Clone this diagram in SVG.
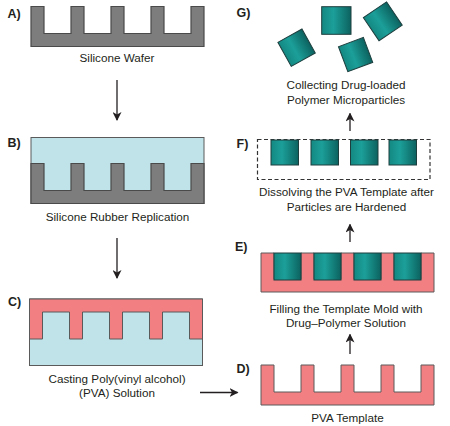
<svg xmlns="http://www.w3.org/2000/svg" xmlns:xlink="http://www.w3.org/1999/xlink" width="450" height="426" viewBox="0 0 450 426">
<style>
.t{font-family:"Liberation Sans",Arial,sans-serif;font-size:11.7px;fill:#231f20;text-anchor:middle}
.lb{font-family:"Liberation Sans",Arial,sans-serif;font-size:12.5px;font-weight:bold;fill:#231f20}
.gray{fill:#7d7d7d;stroke:#4a4a4a;stroke-width:1.2}
.pink{fill:#f27f82;stroke:#5a5a5a;stroke-width:1}
.blue{fill:#bfe3e8;stroke:#5a5a5a;stroke-width:1}
.teal{fill:url(#tg);stroke:#1e3e3e;stroke-width:1}
.ar{stroke:#231f20;stroke-width:1.3;fill:none;marker-end:url(#ah)}
</style>
<defs>
<linearGradient id="tg" x1="0" y1="0" x2="1" y2="0">
<stop offset="0" stop-color="#148882"/>
<stop offset="0.4" stop-color="#1c9f99"/>
<stop offset="1" stop-color="#0c625f"/>
</linearGradient>
<path id="comb" d="M0,0 H13 V27 H40 V0 H53 V27 H80 V0 H93 V27 H120 V0 H133 V27 H160 V0 H173 V40 H0 Z"/>
<marker id="ah" markerWidth="9" markerHeight="9" refX="8" refY="4.5" orient="auto" markerUnits="userSpaceOnUse">
<path d="M0,0 L9,4.5 L0,9 L2.5,4.5 Z" fill="#231f20"/>
</marker>
</defs>

<g id="nodeA">
<use xlink:href="#comb" class="gray" transform="translate(31,6.5)"/>
<text class="lb" x="7.5" y="17.5">A)</text>
<text class="t" x="117" y="62">Silicone Wafer</text>
</g>

<g id="nodeB">
<rect class="blue" x="31" y="137.5" width="173" height="66"/>
<use xlink:href="#comb" class="gray" transform="translate(31,163.5)"/>
<text class="lb" x="7.5" y="147">B)</text>
<text class="t" x="117.5" y="220.5">Silicone Rubber Replication</text>
</g>

<g id="nodeC">
<rect class="blue" x="29.5" y="299" width="173" height="66.5"/>
<use xlink:href="#comb" class="pink" transform="translate(29.5,339) scale(1,-1)"/>
<text class="lb" x="8" y="306">C)</text>
<text class="t" x="117" y="383">Casting Poly(vinyl alcohol)</text>
<text class="t" x="117" y="397">(PVA) Solution</text>
</g>

<g id="nodeD">
<use xlink:href="#comb" class="pink" transform="translate(261,365)"/>
<text class="lb" x="236.5" y="373">D)</text>
<text class="t" x="347.5" y="421.5">PVA Template</text>
</g>

<g id="nodeE">
<use xlink:href="#comb" class="pink" transform="translate(261,253) scale(1,0.975)"/>
<rect class="teal" x="274" y="253" width="27" height="27"/>
<rect class="teal" x="314" y="253" width="27" height="27"/>
<rect class="teal" x="354" y="253" width="27" height="27"/>
<rect class="teal" x="394" y="253" width="27" height="27"/>
<text class="lb" x="235" y="251">E)</text>
<text class="t" x="346" y="312.5">Filling the Template Mold with</text>
<text class="t" x="346" y="327">Drug–Polymer Solution</text>
</g>

<g id="nodeF">
<rect x="257.5" y="139.5" width="172.5" height="40" fill="none" stroke="#333" stroke-width="1.2" stroke-dasharray="4,2.5"/>
<rect class="teal" x="271" y="140" width="27.5" height="25"/>
<rect class="teal" x="311" y="140" width="27.5" height="25"/>
<rect class="teal" x="350.5" y="140" width="27.5" height="25"/>
<rect class="teal" x="389" y="140" width="27.5" height="25"/>
<text class="lb" x="236.5" y="148">F)</text>
<text class="t" x="346.5" y="195.5">Dissolving the PVA Template after</text>
<text class="t" x="346.5" y="210.5">Particles are Hardened</text>
</g>

<g id="nodeG">
<rect class="teal" x="321.7" y="6.7" width="29.3" height="27.6"/>
<rect class="teal" x="-13.75" y="-13.75" width="27.5" height="27.5" transform="translate(296.6,47.7) rotate(-29)"/>
<rect class="teal" x="-14" y="-14" width="28" height="28" transform="translate(382.8,21.3) rotate(-34)"/>
<rect class="teal" x="-13.3" y="-13.3" width="26.6" height="26.6" transform="translate(355.6,54.6) rotate(-20.6)"/>
<text class="lb" x="236.5" y="17">G)</text>
<text class="t" x="346" y="88.5">Collecting Drug-loaded</text>
<text class="t" x="346" y="103.5">Polymer Microparticles</text>
</g>

<g id="connectors">
<line class="ar" x1="117" y1="80" x2="117" y2="120"/>
<line class="ar" x1="117" y1="238" x2="117" y2="278"/>
<line class="ar" x1="200" y1="392.5" x2="237.5" y2="392.5"/>
<line class="ar" x1="350" y1="354" x2="350" y2="334.5"/>
<line class="ar" x1="350" y1="242" x2="350" y2="224.5"/>
<line class="ar" x1="350" y1="131" x2="350" y2="113.5"/>
</g>
</svg>
